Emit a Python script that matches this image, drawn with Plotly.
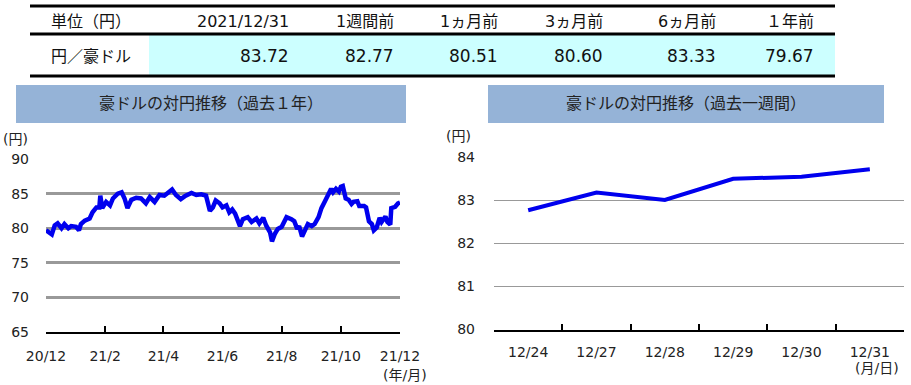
import plotly.graph_objects as go

W, H = 911, 385

# ---------------- data ----------------
table_headers = ["単位（円）", "2021/12/31", "1週間前", "1ヵ月前", "3ヵ月前", "6ヵ月前", "１年前"]
table_row_label = "円／豪ドル"
table_values = [83.72, 82.77, 80.51, 80.60, 83.33, 79.67]

year_dates = [
    "2020-12-31", "2021-01-06", "2021-01-09", "2021-01-12", "2021-01-16", "2021-01-19",
    "2021-01-23", "2021-01-26", "2021-01-31", "2021-02-03", "2021-02-05", "2021-02-09",
    "2021-02-14", "2021-02-17", "2021-02-21", "2021-02-24", "2021-02-25", "2021-02-27",
    "2021-03-03", "2021-03-07", "2021-03-10", "2021-03-15", "2021-03-19", "2021-03-22",
    "2021-03-25", "2021-03-29", "2021-04-03", "2021-04-08", "2021-04-13", "2021-04-17",
    "2021-04-22", "2021-04-27", "2021-05-02", "2021-05-10", "2021-05-14", "2021-05-19",
    "2021-05-24", "2021-05-30", "2021-06-04", "2021-06-09", "2021-06-14", "2021-06-18",
    "2021-06-21", "2021-06-24", "2021-06-28", "2021-07-01", "2021-07-05", "2021-07-08",
    "2021-07-11", "2021-07-14", "2021-07-19", "2021-07-22", "2021-07-27", "2021-07-31",
    "2021-08-05", "2021-08-08", "2021-08-12", "2021-08-15", "2021-08-19", "2021-08-21",
    "2021-08-24", "2021-08-27", "2021-08-31", "2021-09-03", "2021-09-05", "2021-09-10",
    "2021-09-13", "2021-09-16", "2021-09-18", "2021-09-21", "2021-09-24", "2021-09-27",
    "2021-10-01", "2021-10-04", "2021-10-08", "2021-10-11", "2021-10-15", "2021-10-18",
    "2021-10-21", "2021-10-23", "2021-10-26", "2021-10-29", "2021-10-31", "2021-11-02",
    "2021-11-05", "2021-11-08", "2021-11-11", "2021-11-13", "2021-11-17", "2021-11-19",
    "2021-11-24", "2021-11-26", "2021-11-29", "2021-12-02", "2021-12-04", "2021-12-07",
    "2021-12-10", "2021-12-12", "2021-12-16", "2021-12-18", "2021-12-21", "2021-12-22",
    "2021-12-26", "2021-12-29", "2021-12-31",
]
year_values = [
    79.7, 79.1, 80.4, 80.7, 80.0, 80.6,
    80.0, 80.3, 80.2, 79.7, 80.6, 81.1,
    81.4, 82.3, 83.0, 83.0, 84.7, 82.9,
    83.8, 83.3, 84.3, 85.0, 85.2, 84.3,
    82.9, 84.1, 84.4, 84.3, 83.6, 84.5,
    83.8, 84.8, 84.7, 85.6, 84.8, 84.2,
    84.7, 85.1, 84.8, 84.9, 84.7, 82.5,
    83.0, 84.0, 83.6, 83.0, 83.3, 82.3,
    82.7, 82.1, 80.3, 81.3, 81.6, 80.9,
    81.4, 80.7, 81.5, 80.4, 79.4, 78.1,
    79.2, 79.9, 80.2, 81.3, 81.6, 81.3,
    81.0, 79.9, 80.3, 78.8, 79.9, 80.6,
    80.3, 80.6, 81.6, 82.9, 84.0, 84.8,
    85.7, 85.2, 85.7, 85.3, 86.0, 86.1,
    84.3, 84.1, 83.5, 83.8, 83.9, 83.2,
    83.2, 83.0, 81.0, 80.6, 79.7, 80.1,
    81.5, 80.9, 81.7, 80.9, 80.5, 82.9,
    83.1, 83.6, 83.72,
]
year_tick_dates = ["2020-12-31", "2021-03-02", "2021-05-01", "2021-07-01",
                   "2021-08-31", "2021-10-31", "2021-12-31"]
year_tick_labels = ["20/12", "21/2", "21/4", "21/6", "21/8", "21/10", "21/12"]

week_labels = ["12/24", "12/27", "12/28", "12/29", "12/30", "12/31"]
week_values = [82.77, 83.18, 83.01, 83.50, 83.55, 83.72]

# ---------------- helpers ----------------
def px(x):
    return x / W


def py(y):
    return 1 - y / H


FONT = "DejaVu Sans, Noto Sans CJK JP, sans-serif"
BLUE = "#0000ee"

fig = go.Figure()

fig.add_trace(go.Scatter(x=year_dates, y=year_values, mode="lines",
                         line=dict(color=BLUE, width=4.5),
                         xaxis="x", yaxis="y", showlegend=False))
fig.add_trace(go.Scatter(x=week_labels, y=week_values, mode="lines",
                         line=dict(color=BLUE, width=4),
                         xaxis="x2", yaxis="y2", showlegend=False))

shapes = []
annotations = []

# ---- table ----
shapes.append(dict(type="rect", xref="paper", yref="paper",
                   x0=px(149), x1=px(835), y0=py(76), y1=py(35),
                   fillcolor="#ccffff", line=dict(width=0), layer="below"))
for yy in (6, 34, 76):
    shapes.append(dict(type="line", xref="paper", yref="paper",
                       x0=px(30), x1=px(835), y0=py(yy), y1=py(yy),
                       line=dict(color="black", width=3)))

col_right = [291, 396, 500, 605, 718, 816]
annotations.append(dict(xref="paper", yref="paper", x=px(49), y=py(21),
                        text=table_headers[0], showarrow=False, xanchor="left",
                        yanchor="middle", font=dict(family=FONT, size=16, color="#111")))
annotations.append(dict(xref="paper", yref="paper", x=px(49), y=py(56),
                        text=table_row_label, showarrow=False, xanchor="left",
                        yanchor="middle", font=dict(family=FONT, size=16, color="#111")))
for i, xr in enumerate(col_right):
    annotations.append(dict(xref="paper", yref="paper", x=px(xr), y=py(21),
                            text=table_headers[i + 1], showarrow=False, xanchor="right",
                            yanchor="middle", font=dict(family=FONT, size=16, color="#111")))
    annotations.append(dict(xref="paper", yref="paper", x=px(xr), y=py(56),
                            text=f"{table_values[i]:.2f}", showarrow=False, xanchor="right",
                            yanchor="middle", font=dict(family=FONT, size=17, color="#111")))

# ---- chart title boxes ----
TITLE_BG = "#95b3d7"
for (x0, x1, title) in ((16, 406, "豪ドルの対円推移（過去１年）"),
                        (488, 884, "豪ドルの対円推移（過去一週間）")):
    shapes.append(dict(type="rect", xref="paper", yref="paper",
                       x0=px(x0), x1=px(x1), y0=py(123), y1=py(85),
                       fillcolor=TITLE_BG, line=dict(width=0), layer="below"))
    annotations.append(dict(xref="paper", yref="paper", x=px((x0 + x1) / 2), y=py(104),
                            text=title, showarrow=False, xanchor="center", yanchor="middle",
                            font=dict(family=FONT, size=16, color="#222")))

# ---- unit labels ----
annotations += [
    dict(xref="paper", yref="paper", x=px(15), y=py(139), text="(円)", showarrow=False,
         xanchor="center", yanchor="middle", font=dict(family=FONT, size=14, color="#222")),
    dict(xref="paper", yref="paper", x=px(458), y=py(136), text="(円)", showarrow=False,
         xanchor="center", yanchor="middle", font=dict(family=FONT, size=14, color="#222")),
    dict(xref="paper", yref="paper", x=px(405), y=py(375), text="(年/月)", showarrow=False,
         xanchor="center", yanchor="middle", font=dict(family=FONT, size=14, color="#222")),
    dict(xref="paper", yref="paper", x=px(877), y=py(368), text="(月/日)", showarrow=False,
         xanchor="center", yanchor="middle", font=dict(family=FONT, size=14, color="#222")),
]

tickfont = dict(family=FONT, size=14, color="#222")

fig.update_layout(
    width=W, height=H,
    margin=dict(l=0, r=0, t=0, b=0, autoexpand=False),
    paper_bgcolor="white", plot_bgcolor="white",
    shapes=shapes, annotations=annotations,
    xaxis=dict(domain=[px(46), px(400)], type="date",
               range=["2020-12-31", "2021-12-31"],
               tickvals=year_tick_dates, ticktext=year_tick_labels,
               ticks="inside", ticklen=6, tickwidth=2, tickcolor="black",
               showline=True, linecolor="black", linewidth=2,
               showgrid=False, zeroline=False, tickfont=tickfont,
               ticklabelstandoff=10, anchor="y", automargin=False),
    yaxis=dict(domain=[py(332), py(159)], range=[65, 90],
               tickvals=[65, 70, 75, 80, 85, 90],
               showgrid=True, gridcolor="#999999", gridwidth=3,
               showline=False, zeroline=False, ticks="",
               tickfont=tickfont, ticklabelstandoff=16, anchor="x", automargin=False),
    xaxis2=dict(domain=[px(494), px(904)], type="category",
                categoryorder="array", categoryarray=week_labels,
                range=[-0.5, 5.5], tickson="boundaries",
                ticks="inside", ticklen=6, tickwidth=1.5, tickcolor="black",
                showline=True, linecolor="black", linewidth=2,
                showgrid=False, zeroline=False, tickfont=tickfont,
                ticklabelstandoff=9, anchor="y2", automargin=False),
    yaxis2=dict(domain=[py(329.5), py(157.3)], range=[80, 84],
                tickvals=[80, 81, 82, 83, 84],
                showgrid=True, gridcolor="#999999", gridwidth=1,
                showline=False, zeroline=False, ticks="",
                tickfont=tickfont, ticklabelstandoff=18, anchor="x2", automargin=False),
)

fig.write_html("out.html")
